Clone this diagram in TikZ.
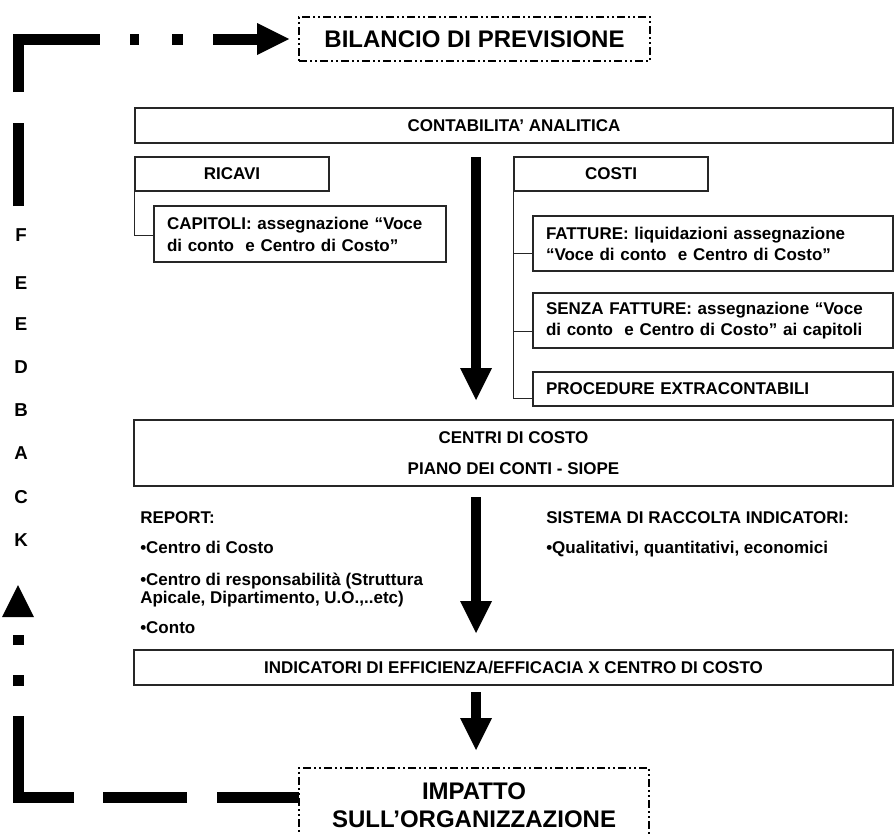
\documentclass[tikz,border=0pt]{standalone}
\usepackage{fontspec}
\setmainfont{Liberation Sans}
\usetikzlibrary{arrows.meta,calc}
\newcommand\ftbody{\fontsize{12.75pt}{15.75pt}\selectfont\bfseries}
\newcommand\ftbig{\fontsize{18pt}{21pt}\selectfont\bfseries}
\newcommand\ftfb{\fontsize{14pt}{16pt}\selectfont\bfseries}
\tikzset{
  wh/.style 2 args={minimum width=#1*0.75pt, minimum height=#2*0.75pt},
  box/.style={draw=black!85, line width=0.9pt, inner sep=0pt, fill=white, font=\ftbody, align=center},
  lbox/.style={box, align=left, inner xsep=9.75pt},
  ddbox/.style={draw=black, line width=1.2pt, inner sep=0pt, fill=white, font=\ftbig, align=center,
     dash pattern=on 6pt off 2.25pt on 1.5pt off 2.25pt on 1.5pt off 2.25pt},
  conn/.style={draw=black!85, line width=0.6pt},
  bigarrow/.style={draw=black, line width=7.5pt, -{Triangle[width=24pt,length=24pt,line width=0pt]}},
  fbline/.style={draw=black, line width=8.25pt, line join=miter,
     -{Triangle[width=24pt,length=24pt,line width=0pt]}},
  plain/.style={font=\ftbody, inner sep=0pt, anchor=base west},
  fbletter/.style={font=\ftfb, inner sep=0pt},
}
\begin{document}
\begin{tikzpicture}[x=0.75pt,y=-0.75pt]
\path[fill=white] (0,0) rectangle (896,835);
\useasboundingbox (0,0) rectangle (896,835);

% boxes
\node[ddbox, wh={351}{44}] (bilancio) at (474.5,39) {BILANCIO DI PREVISIONE};
\node[box, wh={758}{35}] (contab) at (514,125.5) {CONTABILITA’ ANALITICA};
\node[box, wh={194}{34}] (ricavi) at (232,174) {RICAVI};
\node[box, wh={194}{34}] (costi) at (611,174) {COSTI};
\node[lbox, wh={292}{56}, text width=199.5pt,
      font={\fontsize{12.75pt}{16.5pt}\selectfont\bfseries}] (capitoli) at (300,234)
      {CAPITOLI: assegnazione “Voce\\di conto\ \ e Centro di Costo”};
\node[lbox, wh={360}{55}, text width=250.5pt] (fatture) at (713,243.5)
      {FATTURE: liquidazioni assegnazione\\“Voce di conto\ \ e Centro di Costo”};
\node[lbox, wh={360}{55}, text width=250.5pt] (senza) at (713,320.5)
      {SENZA FATTURE: assegnazione “Voce\\di conto\ \ e Centro di Costo” ai capitoli};
\node[lbox, wh={360}{34}, text width=250.5pt] (proc) at (713,389)
      {PROCEDURE EXTRACONTABILI};
\node[box, wh={759}{66}, font={\fontsize{12.75pt}{23.25pt}\selectfont\bfseries}] (centri) at (513.5,453)
      {CENTRI DI COSTO\\PIANO DEI CONTI - SIOPE};
\node[box, wh={759}{35}] (indic) at (513.5,667.5)
      {INDICATORI DI EFFICIENZA/EFFICACIA X CENTRO DI COSTO};
\node[ddbox, wh={350}{110}, anchor=north] (impatto) at (474,767) {};
\node[font={\fontsize{18pt}{21pt}\selectfont\bfseries}, align=center, inner sep=0pt] (impattotxt) at (474,805)
      {IMPATTO\\SULL’ORGANIZZAZIONE};

% free texts
\node[plain] (rep1) at (140,523) {REPORT:};
\node[plain] (rep2) at (140,553) {•Centro di Costo};
\node[plain] (rep3) at (140,585) {•Centro di responsabilità (Struttura};
\node[plain] (rep4) at (140,603) {Apicale, Dipartimento, U.O.,..etc)};
\node[plain] (rep5) at (140,633) {•Conto};
\node[plain] (sis1) at (546,523) {SISTEMA DI RACCOLTA INDICATORI:};
\node[plain] (sis2) at (546,553) {•Qualitativi, quantitativi, economici};

% tree connectors
\draw[conn] (ricavi.south west) |- ([yshift=-0.75pt]capitoli.west);
\draw[conn] (costi.south west) |- ([yshift=-7.5pt]fatture.west);
\draw[conn] (costi.south west) |- ([yshift=-8.25pt]senza.west);
\draw[conn] (costi.south west) |- ([yshift=-6.75pt]proc.west);

% big arrows
\coordinate (a1s) at (476,157); \coordinate (a1e) at (476,400);
\coordinate (a2s) at (476,497); \coordinate (a2e) at (476,633);
\coordinate (a3s) at (476,692); \coordinate (a3e) at (476,750);
\draw[bigarrow] (a1s) -- (a1e);
\draw[bigarrow] (a2s) -- (a2e);
\draw[bigarrow] (a3s) -- (a3e);

% feedback
\coordinate (fbtop) at (18,206);
\coordinate (fbbot) at (299,797);
\coordinate (fbtip) at (18,585);
\draw[fbline, dash pattern=on 62.25pt off 23.25pt on 101.25pt off 22.5pt on 6.75pt off 24.75pt on 8.25pt off 22.5pt on 150pt]
   (fbtop) |- ([xshift=-6.75pt]bilancio.west);
\draw[fbline, dash pattern=on 61.5pt off 22.5pt on 63pt off 21.75pt on 102.75pt off 22.5pt on 8.25pt off 22.5pt on 7.5pt off 13.5pt on 50pt]
   (fbbot) -| (fbtip);

\node[fbletter] (fF) at (21,235) {F};
\node[fbletter] (fE1) at (21,283) {E};
\node[fbletter] (fE2) at (21,324) {E};
\node[fbletter] (fD) at (21,367) {D};
\node[fbletter] (fB) at (21,410) {B};
\node[fbletter] (fA) at (21,453) {A};
\node[fbletter] (fC) at (21,497) {C};
\node[fbletter] (fK) at (21,540) {K};
\end{tikzpicture}
\end{document}
